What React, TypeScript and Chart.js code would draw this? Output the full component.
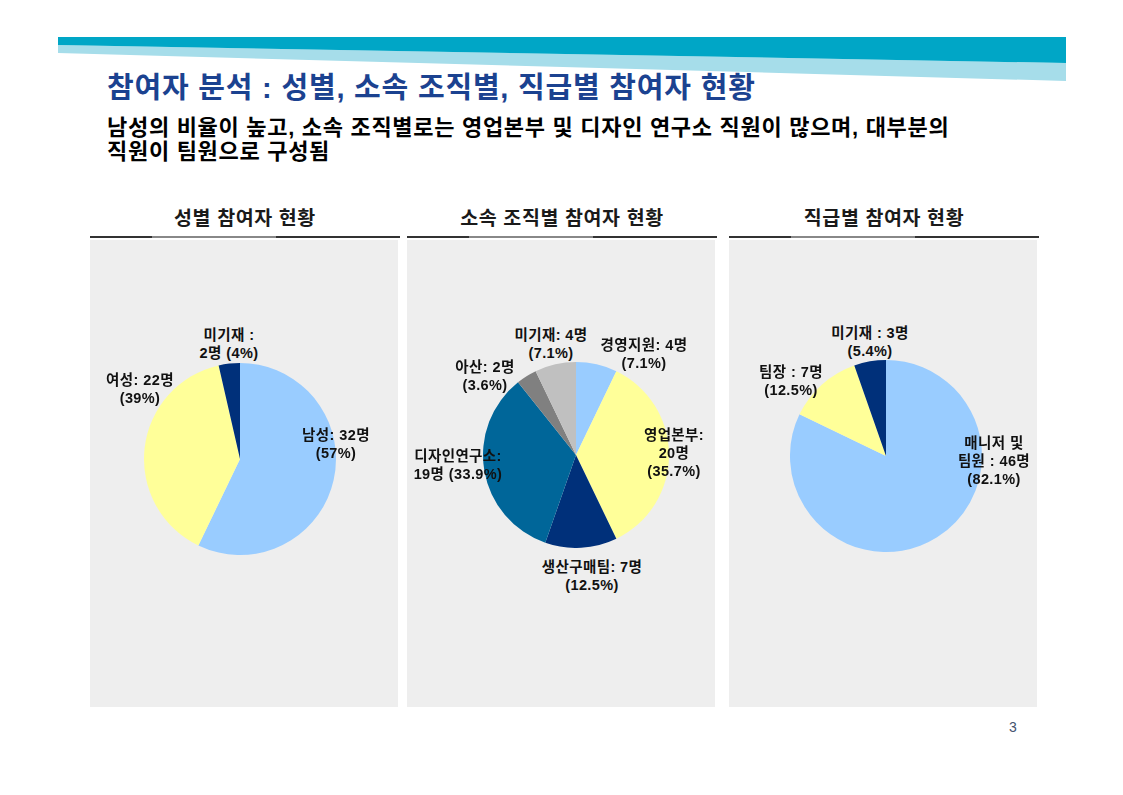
import React, { useEffect, useRef } from "react";
import { Chart, registerables } from "chart.js";

Chart.register(...registerables);

// ---- data ----
const genderLabels = ["남성", "여성", "미기재"];
const genderValues = [32, 22, 2];
const genderColors = ["#99CCFF", "#FFFF99", "#00307A"];

const orgLabels = ["경영지원", "영업본부", "생산구매팀", "디자인연구소", "아산", "미기재"];
const orgValues = [4, 20, 7, 19, 2, 4];
const orgColors = ["#99CCFF", "#FFFF99", "#00307A", "#006699", "#808080", "#C0C0C0"];

const rankLabels = ["매니저 및 팀원", "팀장", "미기재"];
const rankValues = [46, 7, 3];
const rankColors = ["#99CCFF", "#FFFF99", "#00307A"];

const FONT = '"Liberation Sans", Arial, "Noto Sans CJK KR", sans-serif';

type PieProps = { labels: string[]; values: number[]; colors: string[]; cx: number; cy: number; r: number };

function Pie({ labels, values, colors, cx, cy, r }: PieProps) {
  const ref = useRef<HTMLCanvasElement>(null);
  useEffect(() => {
    if (!ref.current) return;
    const chart = new Chart(ref.current, {
      type: "pie",
      data: {
        labels,
        datasets: [{ data: values, backgroundColor: colors, borderWidth: 0 }],
      },
      options: {
        responsive: false,
        animation: false,
        layout: { padding: 0 },
        plugins: { legend: { display: false }, tooltip: { enabled: false } },
      },
    });
    return () => chart.destroy();
  }, []);
  const size = 2 * r;
  return (
    <canvas
      ref={ref}
      width={size}
      height={size}
      style={{ position: "absolute", left: cx - r, top: cy - r, width: size, height: size }}
    />
  );
}

type Lbl = { x: number; y: number; lines: string[] };

function Label({ x, y, lines }: Lbl) {
  return (
    <div
      style={{
        position: "absolute",
        left: x - 100,
        top: y - 9,
        width: 200,
        textAlign: "center",
        fontFamily: FONT,
        fontWeight: "bold",
        fontSize: 14.5,
        letterSpacing: 0.4,
        lineHeight: "18px",
        color: "#111",
        whiteSpace: "pre",
      }}
    >
      {lines.join("\n")}
    </div>
  );
}

function Panel({ x, title }: { x: number; title: string }) {
  return (
    <>
      <div
        style={{
          position: "absolute",
          left: x,
          top: 206,
          width: 310,
          textAlign: "center",
          fontFamily: FONT,
          fontWeight: "bold",
          fontSize: 19.5,
          lineHeight: "24px",
          letterSpacing: 0.6,
          color: "#1a1a1a",
        }}
      >
        {title}
      </div>
      <div
        style={{
          position: "absolute",
          left: x,
          top: 236,
          width: 310,
          height: 2,
          background: "linear-gradient(to right, #333 0%, #333 20%, #888 20%, #888 60%, #333 60%, #333 100%)",
        }}
      />
      <div style={{ position: "absolute", left: x, top: 240, width: 308, height: 467, background: "#EEEEEE" }} />
    </>
  );
}

export default function App() {
  return (
    <div style={{ position: "absolute", left: 0, top: 0, width: 1123, height: 795, background: "#fff", overflow: "hidden" }}>
      <svg width={1123} height={100} style={{ position: "absolute", left: 0, top: 0 }}>
        <polygon points="58,45 1066,63 1066,81 58,53" fill="#A6DDEA" />
        <polygon points="58,37 1066,37 1066,63 58,45" fill="#00A6C6" />
      </svg>
      <div
        style={{
          position: "absolute",
          left: 107,
          top: 72,
          fontFamily: FONT,
          fontWeight: "bold",
          fontSize: 29,
          lineHeight: "32px",
          letterSpacing: 0.8,
          color: "#1B4290",
          whiteSpace: "nowrap",
        }}
      >
        참여자 분석 : 성별, 소속 조직별, 직급별 참여자 현황
      </div>
      <div
        style={{
          position: "absolute",
          left: 107,
          top: 116,
          fontFamily: FONT,
          fontWeight: "bold",
          fontSize: 22,
          lineHeight: "24px",
          letterSpacing: 0.7,
          color: "#000",
          whiteSpace: "pre",
        }}
      >
        {"남성의 비율이 높고, 소속 조직별로는 영업본부 및 디자인 연구소 직원이 많으며, 대부분의\n직원이 팀원으로 구성됨"}
      </div>

      <Panel x={90} title="성별 참여자 현황" />
      <Panel x={407} title="소속 조직별 참여자 현황" />
      <Panel x={729} title="직급별 참여자 현황" />

      <Pie labels={genderLabels} values={genderValues} colors={genderColors} cx={240} cy={459} r={96} />
      <Pie labels={orgLabels} values={orgValues} colors={orgColors} cx={576} cy={455} r={93} />
      <Pie labels={rankLabels} values={rankValues} colors={rankColors} cx={886} cy={456} r={96} />

      <Label x={229} y={335} lines={["미기재 :", "2명 (4%)"]} />
      <Label x={140} y={380} lines={["여성: 22명", "(39%)"]} />
      <Label x={336} y={435} lines={["남성: 32명", "(57%)"]} />

      <Label x={551} y={335} lines={["미기재: 4명", "(7.1%)"]} />
      <Label x={644} y={345} lines={["경영지원: 4명", "(7.1%)"]} />
      <Label x={485} y={367} lines={["아산: 2명", "(3.6%)"]} />
      <Label x={674} y={435} lines={["영업본부:", "20명", "(35.7%)"]} />
      <Label x={458} y={456} lines={["디자인연구소:", "19명 (33.9%)"]} />
      <Label x={592} y={567} lines={["생산구매팀: 7명", "(12.5%)"]} />

      <Label x={870} y={333} lines={["미기재 : 3명", "(5.4%)"]} />
      <Label x={791} y={372} lines={["팀장 : 7명", "(12.5%)"]} />
      <Label x={994} y={443} lines={["매니저 및", "팀원 : 46명", "(82.1%)"]} />

      <div style={{ position: "absolute", left: 1009, top: 719, fontFamily: FONT, fontSize: 14, color: "#44536e" }}>3</div>
    </div>
  );
}
